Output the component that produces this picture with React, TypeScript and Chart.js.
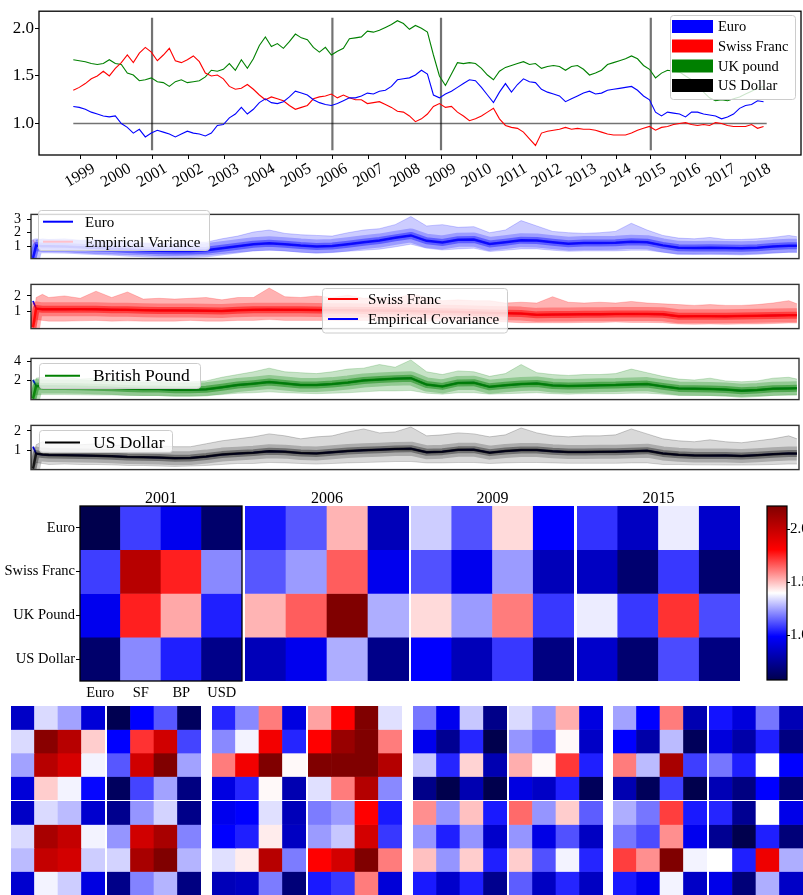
import React, { useEffect, useRef } from 'react';
import { Chart, registerables } from 'chart.js';

Chart.register(...registerables);

const SERIF = '"Liberation Serif", "DejaVu Serif", "Times New Roman", serif';
Chart.defaults.font.family = SERIF;
Chart.defaults.color = '#000';

/* ------------------------------------------------------------------ */
/* Exchange rates in US dollars, one reading every STEP trading days   */
/* ------------------------------------------------------------------ */
const STEP = 42;
const LAST_DAY = 4852;

const EURO = [
  1.18, 1.17, 1.15, 1.12, 1.10, 1.08, 1.07, 1.08, 1.00, 0.96,
  0.90, 0.94, 0.86, 0.90, 0.93, 0.91, 0.89, 0.86, 0.89, 0.92,
  0.90, 0.89, 0.87, 0.90, 0.98, 0.99, 1.06, 1.10, 1.17, 1.10,
  1.15, 1.22, 1.26, 1.22, 1.21, 1.23, 1.28, 1.34, 1.32, 1.30,
  1.25, 1.22, 1.20, 1.19, 1.21, 1.24, 1.27, 1.27, 1.29, 1.32,
  1.31, 1.34, 1.35, 1.39, 1.46, 1.47, 1.48, 1.51, 1.56, 1.52,
  1.30, 1.27, 1.31, 1.34, 1.38, 1.42, 1.46, 1.45, 1.38, 1.30,
  1.22, 1.33, 1.42, 1.33, 1.41, 1.47, 1.44, 1.43, 1.36, 1.33,
  1.31, 1.29, 1.23, 1.26, 1.29, 1.32, 1.34, 1.31, 1.32, 1.35,
  1.36, 1.37, 1.38, 1.39, 1.35, 1.29, 1.25, 1.12, 1.08, 1.12,
  1.11, 1.10, 1.07, 1.12, 1.12, 1.10, 1.09, 1.08, 1.05, 1.07,
  1.10, 1.16, 1.19, 1.20, 1.24, 1.23,
];

const SWISS_FRANC = [
  1.35, 1.38, 1.42, 1.47, 1.50, 1.55, 1.50, 1.58, 1.64, 1.72,
  1.64, 1.74, 1.80, 1.75, 1.66, 1.72, 1.79, 1.66, 1.64, 1.67,
  1.71, 1.65, 1.53, 1.50, 1.51, 1.47, 1.39, 1.36, 1.37, 1.41,
  1.36, 1.30, 1.25, 1.28, 1.26, 1.24, 1.19, 1.15, 1.17, 1.19,
  1.26, 1.28, 1.29, 1.31, 1.27, 1.30, 1.27, 1.25, 1.25, 1.21,
  1.22, 1.23, 1.20, 1.17, 1.13, 1.12, 1.08, 1.02, 1.05, 1.10,
  1.18, 1.21, 1.17, 1.18, 1.12, 1.08, 1.03, 1.05, 1.08, 1.12,
  1.16, 1.05, 0.98, 0.96, 0.95, 0.91, 0.84, 0.77, 0.90, 0.92,
  0.93, 0.94, 0.96, 0.94, 0.95, 0.94, 0.94, 0.93, 0.91, 0.89,
  0.88, 0.88, 0.88, 0.90, 0.93, 0.95, 0.97, 0.93, 0.96, 0.97,
  0.99, 1.00, 1.01, 0.99, 0.98, 0.99, 0.98, 1.01, 1.00, 0.98,
  0.97, 0.97, 0.97, 0.99, 0.95, 0.97,
];

const UK_POUND = [
  1.67, 1.66, 1.65, 1.63, 1.62, 1.63, 1.67, 1.63, 1.62, 1.53,
  1.51, 1.45, 1.46, 1.48, 1.44, 1.43, 1.39, 1.44, 1.46, 1.43,
  1.44, 1.45, 1.49, 1.56, 1.55, 1.57, 1.63, 1.56, 1.67, 1.58,
  1.68, 1.82, 1.91, 1.81, 1.84, 1.79, 1.86, 1.94, 1.90, 1.88,
  1.80, 1.75, 1.80, 1.72, 1.76, 1.79, 1.89, 1.90, 1.91, 1.97,
  1.96, 1.98, 2.01, 2.04, 2.08, 2.05, 1.99, 2.03, 2.00, 1.96,
  1.72, 1.50, 1.40, 1.52, 1.64, 1.63, 1.64, 1.63, 1.58, 1.51,
  1.46, 1.55, 1.59, 1.61, 1.63, 1.65, 1.62, 1.63, 1.58, 1.60,
  1.61, 1.60, 1.56, 1.60, 1.61, 1.57, 1.51, 1.53, 1.56, 1.62,
  1.64, 1.66, 1.68, 1.71, 1.68, 1.61, 1.57, 1.48, 1.53, 1.56,
  1.55, 1.54, 1.50, 1.46, 1.44, 1.33, 1.27, 1.24, 1.25, 1.24,
  1.26, 1.28, 1.31, 1.34, 1.37, 1.39,
];

// the reference currency sits at parity from the first to the last day
const US_DOLLAR = [1.0, 1.0];

const YEAR_LABELS = [
  '1999', '2000', '2001', '2002', '2003', '2004', '2005', '2006', '2007', '2008',
  '2009', '2010', '2011', '2012', '2013', '2014', '2015', '2016', '2017', '2018',
];
// trading-day index carrying each year label
const YEAR_TICKS = [
  47, 299, 551, 803, 1055, 1307, 1559, 1813, 2065, 2322,
  2573, 2823, 3072, 3313, 3555, 3798, 4041, 4286, 4531, 4776,
];
const RATE_TICKS = [1.0, 1.5, 2.0];
const MARKED_YEARS = ['2001', '2006', '2009', '2015'];
const MARKER_SPAN = [0.72, 2.11];

const CURRENCY_NAMES = ['Euro', 'Swiss Franc', 'UK pound', 'US Dollar'];
const CURRENCY_COLORS = ['rgb(0,0,255)', 'rgb(255,0,0)', 'rgb(0,128,0)', 'rgb(0,0,0)'];

/* ------------------------------------------------------------------ */
/* Sampled variances / covariances over time                           */
/* ------------------------------------------------------------------ */
const VAR_T = [
  0, 20, 60, 100, 200, 300, 400, 500, 600, 700, 800, 900, 1000,
  1100, 1200, 1300, 1400, 1500, 1600, 1700, 1800, 1900, 2000,
  2100, 2200, 2300, 2400, 2500, 2600, 2700, 2800, 2900, 3000,
  3100, 3200, 3300, 3400, 3500, 3600, 3700, 3800, 3900, 4000,
  4100, 4200, 4300, 4400, 4500, 4600, 4700, 4800, 4852,
];

const EURO_EMP = [1.45, 1.05, 1.00, 1.00, 0.97, 0.93, 0.87, 0.82, 0.76, 0.70, 0.66, 0.64, 0.65, 0.70, 0.85, 1.00, 1.15, 1.22, 1.15, 1.05, 0.98, 1.02, 1.15, 1.30, 1.42, 1.62, 1.80, 1.40, 1.28, 1.48, 1.50, 1.17, 1.30, 1.45, 1.42, 1.30, 1.19, 1.24, 1.23, 1.25, 1.33, 1.30, 1.06, 0.88, 0.86, 0.88, 0.87, 0.84, 0.88, 0.97, 1.03, 1.03];
const EURO_HI = [0.25, 1.45, 1.55, 1.5, 1.55, 1.45, 1.5, 1.35, 1.4, 1.25, 1.2, 1.25, 1.3, 1.3, 1.55, 1.75, 2.05, 2.2, 1.95, 1.85, 1.8, 1.75, 2.0, 2.2, 2.3, 2.6, 3.2, 2.5, 2.6, 2.4, 2.45, 2.0, 2.2, 2.9, 2.5, 2.1, 2.0, 1.95, 2.0, 2.1, 2.7, 2.2, 1.8, 1.6, 1.55, 1.65, 1.5, 1.5, 1.55, 1.65, 1.8, 1.7];
const EURO_LO = [0.05, 0.65, 0.6, 0.6, 0.58, 0.52, 0.45, 0.42, 0.38, 0.35, 0.3, 0.3, 0.32, 0.35, 0.45, 0.55, 0.65, 0.7, 0.65, 0.55, 0.5, 0.55, 0.62, 0.7, 0.78, 0.95, 1.15, 0.85, 0.72, 0.8, 0.85, 0.6, 0.7, 0.8, 0.8, 0.7, 0.62, 0.65, 0.65, 0.65, 0.7, 0.7, 0.55, 0.42, 0.42, 0.45, 0.42, 0.4, 0.45, 0.5, 0.55, 0.55];
const EURO_START = 0.12;

const SF_EMP = [1.68, 1.2, 1.15, 1.15, 1.15, 1.16, 1.15, 1.13, 1.12, 1.10, 1.08, 1.08, 1.07, 1.06, 1.05, 1.10, 1.12, 1.13, 1.12, 1.12, 1.11, 1.10, 1.10, 1.08, 1.07, 1.06, 1.04, 1.02, 1.00, 0.98, 0.95, 0.92, 0.91, 0.88, 0.80, 0.82, 0.83, 0.84, 0.84, 0.85, 0.86, 0.85, 0.84, 0.71, 0.72, 0.72, 0.71, 0.73, 0.74, 0.76, 0.78, 0.78];
const SF_HI = [0.1, 1.9, 2.1, 1.9, 2.0, 1.85, 2.3, 1.9, 2.25, 1.8, 1.85, 1.8, 1.85, 1.9, 1.75, 1.9, 1.9, 2.5, 1.95, 1.9, 2.0, 1.9, 2.05, 1.85, 1.9, 1.85, 2.1, 1.9, 1.7, 1.75, 1.7, 1.7, 1.55, 1.6, 1.55, 1.95, 1.6, 1.55, 1.6, 1.55, 1.65, 1.55, 1.5, 1.45, 1.4, 1.45, 1.4, 1.4, 1.45, 1.55, 1.7, 1.5];
const SF_LO = [-0.02, 0.5, 0.45, 0.4, 0.4, 0.42, 0.45, 0.4, 0.42, 0.4, 0.4, 0.4, 0.45, 0.4, 0.4, 0.45, 0.45, 0.5, 0.45, 0.45, 0.45, 0.45, 0.42, 0.45, 0.42, 0.45, 0.4, 0.4, 0.4, 0.38, 0.35, 0.35, 0.35, 0.3, 0.3, 0.3, 0.3, 0.32, 0.32, 0.35, 0.32, 0.32, 0.3, 0.22, 0.2, 0.22, 0.2, 0.22, 0.22, 0.25, 0.28, 0.28];
const SF_START = 0.0;

const GBP_EMP = [2.0, 1.35, 1.3, 1.3, 1.28, 1.25, 1.2, 1.15, 1.08, 1.02, 1.0, 0.93, 0.92, 0.98, 1.2, 1.45, 1.6, 1.78, 1.62, 1.45, 1.45, 1.55, 1.72, 1.95, 2.05, 2.15, 2.2, 1.5, 1.3, 1.68, 1.7, 1.25, 1.42, 1.55, 1.62, 1.4, 1.35, 1.38, 1.42, 1.45, 1.52, 1.55, 1.3, 1.08, 1.05, 1.02, 0.95, 0.82, 0.9, 1.05, 1.08, 1.1];
const GBP_HI = [0.2, 2.2, 2.3, 2.2, 2.3, 2.1, 2.2, 2.0, 2.1, 1.9, 1.85, 1.8, 1.8, 1.9, 2.3, 2.6, 2.9, 3.3, 2.9, 2.8, 2.7, 2.9, 3.2, 3.3, 3.7, 3.4, 4.2, 2.9, 2.6, 3.0, 2.9, 2.4, 2.7, 3.7, 2.8, 2.6, 2.5, 2.6, 2.6, 2.7, 3.2, 2.8, 2.4, 2.1, 2.0, 2.2, 1.9, 1.8, 1.9, 2.2, 2.3, 2.1];
const GBP_LO = [-0.1, 0.4, 0.4, 0.4, 0.4, 0.38, 0.35, 0.35, 0.3, 0.3, 0.3, 0.25, 0.25, 0.3, 0.4, 0.55, 0.6, 0.7, 0.6, 0.55, 0.5, 0.55, 0.6, 0.7, 0.8, 0.8, 0.85, 0.55, 0.45, 0.6, 0.6, 0.45, 0.5, 0.55, 0.6, 0.5, 0.45, 0.5, 0.5, 0.5, 0.55, 0.55, 0.45, 0.3, 0.3, 0.3, 0.25, 0.2, 0.25, 0.3, 0.35, 0.35];
const GBP_START = -0.05;

const USD_EMP = [1.2, 0.85, 0.8, 0.78, 0.77, 0.76, 0.74, 0.72, 0.68, 0.67, 0.65, 0.62, 0.63, 0.7, 0.8, 0.85, 0.9, 0.97, 0.95, 0.88, 0.86, 0.92, 0.98, 1.02, 1.05, 1.08, 1.1, 0.92, 0.95, 1.04, 1.05, 0.9, 0.98, 1.03, 1.03, 0.97, 0.93, 0.93, 0.94, 0.95, 0.97, 1.0, 0.86, 0.79, 0.76, 0.75, 0.76, 0.73, 0.77, 0.82, 0.86, 0.85];
const USD_HI = [0.3, 1.3, 1.45, 1.35, 1.4, 1.3, 1.35, 1.25, 1.3, 1.2, 1.25, 1.2, 1.2, 1.35, 1.5, 1.6, 1.7, 1.85, 1.75, 1.6, 1.7, 1.75, 1.95, 2.1, 1.9, 1.95, 2.2, 1.75, 1.8, 1.9, 1.85, 1.7, 1.8, 2.15, 1.9, 1.75, 1.7, 1.75, 1.75, 1.8, 2.1, 1.85, 1.6, 1.5, 1.45, 1.55, 1.45, 1.4, 1.5, 1.6, 1.75, 1.6];
const USD_LO = [0.05, 0.4, 0.35, 0.3, 0.32, 0.3, 0.3, 0.28, 0.25, 0.25, 0.22, 0.2, 0.22, 0.25, 0.3, 0.35, 0.35, 0.4, 0.38, 0.35, 0.32, 0.35, 0.38, 0.4, 0.42, 0.45, 0.45, 0.38, 0.38, 0.4, 0.4, 0.35, 0.38, 0.4, 0.4, 0.38, 0.36, 0.36, 0.36, 0.36, 0.38, 0.38, 0.3, 0.3, 0.28, 0.28, 0.27, 0.27, 0.28, 0.3, 0.32, 0.32];
const USD_START = 0.08;

/* ------------------------------------------------------------------ */
/* Covariance matrices (rows/cols: Euro, SF, BP, USD)                  */
/* ------------------------------------------------------------------ */
const ROW_LABELS = ['Euro', 'Swiss Franc', 'UK Pound', 'US Dollar'];
const COL_LABELS = ['Euro', 'SF', 'BP', 'USD'];
const COV_YEARS = ['2001', '2006', '2009', '2015'];

const COV_2001 = [[0.58, 1.09, 0.95, 0.65], [1.09, 2.04, 1.76, 1.21], [0.95, 1.76, 1.54, 1.04], [0.65, 1.21, 1.04, 0.72]];
const COV_2006 = [[1.03, 1.13, 1.52, 0.83], [1.13, 1.24, 1.66, 0.95], [1.52, 1.66, 2.22, 1.27], [0.83, 0.95, 1.27, 0.72]];
const COV_2009 = [[1.32, 1.12, 1.46, 0.99], [1.12, 0.95, 1.24, 0.83], [1.46, 1.24, 1.61, 1.08], [0.99, 0.83, 1.08, 0.70]];
const COV_2015 = [[1.07, 0.85, 1.37, 0.87], [0.85, 0.66, 1.08, 0.66], [1.37, 1.08, 1.73, 1.11], [0.87, 0.66, 1.11, 0.70]];

// four posterior draws per year
const DRAWS_2001 = [
  [[0.86, 1.34, 1.25, 0.90], [1.34, 2.19, 2.04, 1.48], [1.25, 2.04, 1.94, 1.38], [0.90, 1.48, 1.38, 1.00]],
  [[0.59, 0.99, 1.13, 0.62], [0.99, 1.73, 1.96, 1.10], [1.13, 1.96, 2.22, 1.25], [0.62, 1.10, 1.25, 0.70]],
  [[0.86, 1.34, 1.29, 0.88], [1.34, 2.09, 2.00, 1.38], [1.29, 2.00, 1.95, 1.32], [0.88, 1.38, 1.32, 0.92]],
  [[0.73, 1.23, 1.33, 0.72], [1.23, 1.96, 2.09, 1.20], [1.33, 2.09, 2.22, 1.28], [0.72, 1.20, 1.28, 0.70]],
];
const DRAWS_2006 = [
  [[1.05, 1.21, 1.61, 0.92], [1.21, 1.38, 1.85, 1.05], [1.61, 1.85, 2.22, 1.41], [0.92, 1.05, 1.41, 0.81]],
  [[1.55, 1.81, 2.30, 1.35], [1.81, 2.14, 2.30, 1.61], [2.30, 2.30, 2.40, 2.05], [1.35, 1.61, 2.05, 1.21]],
  [[0.95, 0.99, 1.35, 0.83], [0.99, 1.04, 1.43, 0.85], [1.35, 1.43, 2.04, 1.19], [0.83, 0.85, 1.19, 0.68]],
  [[1.19, 1.24, 1.81, 1.03], [1.24, 1.31, 1.95, 1.08], [1.81, 1.95, 2.25, 1.61], [1.03, 1.08, 1.61, 0.90]],
];
const DRAWS_2009 = [
  [[1.18, 0.95, 1.31, 0.72], [0.95, 0.74, 1.05, 0.58], [1.31, 1.05, 1.47, 0.81], [0.72, 0.58, 0.81, 0.56]],
  [[1.34, 1.23, 1.53, 0.92], [1.23, 1.16, 1.41, 0.86], [1.53, 1.41, 1.72, 1.04], [0.92, 0.86, 1.04, 0.61]],
  [[1.58, 1.23, 1.50, 1.03], [1.23, 1.04, 1.23, 0.87], [1.50, 1.23, 1.48, 1.04], [1.03, 0.87, 1.04, 0.73]],
  [[1.64, 1.23, 1.48, 1.14], [1.23, 0.93, 1.12, 0.85], [1.48, 1.12, 1.38, 1.05], [1.14, 0.85, 1.05, 0.85]],
];
const DRAWS_2015 = [
  [[1.25, 0.99, 1.61, 0.81], [0.99, 0.79, 1.29, 0.61], [1.61, 1.29, 2.09, 1.09], [0.81, 0.61, 1.09, 0.57]],
  [[1.02, 0.91, 1.18, 0.82], [0.91, 0.79, 1.04, 0.70], [1.18, 1.04, 1.40, 0.99], [0.82, 0.70, 0.99, 0.68]],
  [[1.27, 1.18, 1.71, 1.03], [1.18, 1.11, 1.58, 0.95], [1.71, 1.58, 2.30, 1.38], [1.03, 0.95, 1.38, 0.86]],
  [[1.05, 0.74, 1.40, 0.94], [0.74, 0.57, 1.04, 0.68], [1.40, 1.04, 1.86, 1.27], [0.94, 0.68, 1.27, 0.86]],
];

const CMAP_MIN = 0.58;
const CMAP_MAX = 2.22;
const CBAR_TICKS = [1.0, 1.5, 2.0];

/* ------------------------------------------------------------------ */
/* helpers                                                             */
/* ------------------------------------------------------------------ */
function seismicRgb(n: number): number[] {
  n = Math.min(1, Math.max(0, n));
  if (n < 0.25) return [0, 0, 0.3 + 0.7 * (n / 0.25)];
  if (n < 0.5) { const f = (n - 0.25) / 0.25; return [f, f, 1]; }
  if (n < 0.75) { const f = (n - 0.5) / 0.25; return [1, 1 - f, 1 - f]; }
  const f = (n - 0.75) / 0.25;
  return [1 - 0.5 * f, 0, 0];
}
function seismic(v: number): string {
  const [r, g, b] = seismicRgb((v - CMAP_MIN) / (CMAP_MAX - CMAP_MIN));
  return `rgb(${Math.round(r * 255)},${Math.round(g * 255)},${Math.round(b * 255)})`;
}

type LegendItem = { label: string; color: string; kind: 'patch' | 'line' };
type LegendSpec = {
  box: number[]; rows: number[]; handle: number[]; textX: number; size: number; patchH?: number;
  items: LegendItem[];
};

function roundRect(c: CanvasRenderingContext2D, x: number, y: number, w: number, h: number, r: number) {
  c.beginPath();
  c.moveTo(x + r, y);
  c.lineTo(x + w - r, y);
  c.arcTo(x + w, y, x + w, y + r, r);
  c.lineTo(x + w, y + h - r);
  c.arcTo(x + w, y + h, x + w - r, y + h, r);
  c.lineTo(x + r, y + h);
  c.arcTo(x, y + h, x, y + h - r, r);
  c.lineTo(x, y + r);
  c.arcTo(x, y, x + r, y, r);
  c.closePath();
}

function drawLegend(c: CanvasRenderingContext2D, spec: LegendSpec) {
  const [x0, y0, x1, y1] = spec.box;
  roundRect(c, x0 + 0.5, y0 + 0.5, x1 - x0, y1 - y0, 3);
  c.fillStyle = 'rgba(255,255,255,0.8)';
  c.fill();
  c.strokeStyle = 'rgb(204,204,204)';
  c.lineWidth = 1;
  c.stroke();
  spec.items.forEach((it, i) => {
    const y = spec.rows[i];
    const [hx0, hx1] = spec.handle;
    if (it.kind === 'patch') {
      const ph = spec.patchH || 13;
      c.fillStyle = it.color;
      c.fillRect(hx0, y - ph / 2, hx1 - hx0, ph);
    } else {
      c.strokeStyle = it.color;
      c.lineWidth = 2;
      c.beginPath();
      c.moveTo(hx0, y);
      c.lineTo(hx1, y);
      c.stroke();
    }
    c.fillStyle = '#000';
    c.font = `${spec.size}px ${SERIF}`;
    c.textAlign = 'left';
    c.textBaseline = 'middle';
    c.fillText(it.label, spec.textX, y + 1);
  });
}

type DecorOpts = {
  frame?: { color: string; width: number };
  legend?: LegendSpec;
  title?: string;
  yearLabels?: boolean;
};

function decor(o: DecorOpts) {
  return {
    id: 'decor',
    afterDraw(chart: any) {
      const c: CanvasRenderingContext2D = chart.ctx;
      const a = chart.chartArea;
      c.save();
      if (o.frame) {
        c.strokeStyle = o.frame.color;
        c.lineWidth = o.frame.width;
        c.strokeRect(a.left, a.top, a.right - a.left, a.bottom - a.top);
      }
      if (o.yearLabels) {
        const xs = chart.scales.x;
        c.font = `16px ${SERIF}`;
        c.fillStyle = '#000';
        c.textAlign = 'center';
        c.textBaseline = 'middle';
        YEAR_TICKS.forEach((t, i) => {
          c.save();
          c.translate(xs.getPixelForValue(t), a.bottom + 20.5);
          c.rotate(-Math.PI / 6);
          c.fillText(YEAR_LABELS[i], 0, 0);
          c.restore();
        });
      }
      if (o.title) {
        c.font = `16px ${SERIF}`;
        c.fillStyle = '#000';
        c.textAlign = 'center';
        c.textBaseline = 'alphabetic';
        c.fillText(o.title, (a.left + a.right) / 2, a.top - 3);
      }
      if (o.legend) drawLegend(c, o.legend);
      c.restore();
    },
  };
}

const baseOptions = {
  responsive: false,
  animation: false,
  devicePixelRatio: 1,
  events: [],
};
const noPlugins = { legend: { display: false }, tooltip: { enabled: false }, title: { display: false } };

/* ------------------------------------------------------------------ */
/* chart configurations                                                */
/* ------------------------------------------------------------------ */
function ratesConfig() {
  const daily = (vals: number[]) => vals.map((v, k) => ({ x: k * STEP, y: v }));
  const series = [EURO, SWISS_FRANC, UK_POUND].map((vals, i) => ({
    label: CURRENCY_NAMES[i],
    data: daily(vals),
    borderColor: CURRENCY_COLORS[i],
    borderWidth: 1.1,
    pointRadius: 0,
  }));
  const dollar = {
    label: CURRENCY_NAMES[3],
    data: [{ x: 0, y: US_DOLLAR[0] }, { x: LAST_DAY, y: US_DOLLAR[1] }],
    borderColor: 'rgba(0,0,0,0.55)',
    borderWidth: 1.6,
    pointRadius: 0,
  };
  const markers = MARKED_YEARS.map((yr) => {
    const t = YEAR_TICKS[YEAR_LABELS.indexOf(yr)];
    return {
      label: yr,
      data: [{ x: t, y: MARKER_SPAN[0] }, { x: t, y: MARKER_SPAN[1] }],
      borderColor: 'rgba(0,0,0,0.55)',
      borderWidth: 2.2,
      pointRadius: 0,
    };
  });
  return {
    type: 'line',
    data: { datasets: [...series, dollar, ...markers] },
    options: {
      ...baseOptions,
      layout: { padding: { top: 9, right: 2, left: 0, bottom: 0 } },
      plugins: noPlugins,
      scales: {
        x: {
          type: 'linear', min: -240, max: 5092,
          afterBuildTicks: (s: any) => { s.ticks = YEAR_TICKS.map((v) => ({ value: v })); },
          ticks: { display: false },
          grid: { drawOnChartArea: false, tickLength: 4, color: '#000' },
          border: { display: false },
          afterFit: (s: any) => { s.height = 45; },
        },
        y: {
          type: 'linear', min: 0.67, max: 2.18,
          afterBuildTicks: (s: any) => { s.ticks = RATE_TICKS.map((v) => ({ value: v })); },
          ticks: { callback: (v: any) => Number(v).toFixed(1), font: { size: 17 }, padding: 1 },
          grid: { drawOnChartArea: false, tickLength: 4, color: '#000' },
          border: { display: false },
          afterFit: (s: any) => { s.width = 39; },
        },
      },
    },
    plugins: [decor({
      frame: { color: '#000', width: 1.3 },
      yearLabels: true,
      legend: {
        box: [670, 15, 795, 99], rows: [26.5, 46, 66, 85.5], handle: [672, 713], textX: 718, size: 14.5, patchH: 13,
        items: CURRENCY_NAMES.map((n, i) => ({ label: n, color: CURRENCY_COLORS[i], kind: 'patch' as const })),
      },
    })],
  };
}

type Panel = {
  name: string; rgb: number[]; fillAlpha: number; coreAlpha: number; lineAlpha: number;
  emp: number[]; hi: number[]; lo: number[]; start: number;
  empColor: string; empWidth: number;
  yMin: number; yMax: number; ticks: number[];
  legend: LegendSpec;
};

const PANELS: Panel[] = [
  {
    name: 'Euro', rgb: [0, 0, 255], fillAlpha: 0.2, coreAlpha: 0.4, lineAlpha: 0.85,
    emp: EURO_EMP, hi: EURO_HI, lo: EURO_LO, start: EURO_START,
    empColor: 'rgb(255,192,203)', empWidth: 1.5,
    yMin: 0.08, yMax: 3.36, ticks: [1, 2, 3],
    legend: {
      box: [38, 10, 209, 50], rows: [21.7, 41.7], handle: [43, 73], textX: 85, size: 15,
      items: [{ label: 'Euro', color: 'rgb(0,0,255)', kind: 'line' }, { label: 'Empirical Variance', color: 'rgb(255,192,203)', kind: 'line' }],
    },
  },
  {
    name: 'Swiss Franc', rgb: [255, 0, 0], fillAlpha: 0.3, coreAlpha: 0.5, lineAlpha: 0.85,
    emp: SF_EMP, hi: SF_HI, lo: SF_LO, start: SF_START,
    empColor: 'rgb(0,0,255)', empWidth: 1.8,
    yMin: -0.07, yMax: 2.73, ticks: [1, 2],
    legend: {
      box: [322, 18, 507, 62.5], rows: [29, 49], handle: [328, 358], textX: 368, size: 15,
      items: [{ label: 'Swiss Franc', color: 'rgb(255,0,0)', kind: 'line' }, { label: 'Empirical Covariance', color: 'rgb(0,0,255)', kind: 'line' }],
    },
  },
  {
    name: 'British Pound', rgb: [0, 128, 0], fillAlpha: 0.22, coreAlpha: 0.45, lineAlpha: 0.85,
    emp: GBP_EMP, hi: GBP_HI, lo: GBP_LO, start: GBP_START,
    empColor: 'rgb(0,0,255)', empWidth: 1.8,
    yMin: -0.15, yMax: 4.37, ticks: [2, 4],
    legend: {
      box: [39, 19, 200, 44], rows: [31.7], handle: [45, 80], textX: 93, size: 17.5,
      items: [{ label: 'British Pound', color: 'rgb(0,128,0)', kind: 'line' }],
    },
  },
  {
    name: 'US Dollar', rgb: [0, 0, 0], fillAlpha: 0.15, coreAlpha: 0.35, lineAlpha: 0.8,
    emp: USD_EMP, hi: USD_HI, lo: USD_LO, start: USD_START,
    empColor: 'rgb(0,0,255)', empWidth: 1.8,
    yMin: 0.04, yMax: 2.28, ticks: [1, 2],
    legend: {
      box: [39, 19, 172, 41], rows: [31.5], handle: [45, 80], textX: 93, size: 17.5,
      items: [{ label: 'US Dollar', color: 'rgb(0,0,0)', kind: 'line' }],
    },
  },
];

const PANEL_BOXES = [
  { top: 200, height: 73 },
  { top: 270, height: 73 },
  { top: 344, height: 70 },
  { top: 411, height: 73 },
];

function panelConfig(p: Panel) {
  const pts = (vals: number[]) => vals.map((v, i) => ({ x: VAR_T[i], y: v }));
  const rgba = (a: number) => `rgba(${p.rgb.join(',')},${a})`;
  const core = [{ x: VAR_T[0], y: p.start }, ...pts(p.emp).slice(1)];
  return {
    type: 'line',
    data: {
      datasets: [
        { data: pts(p.lo), borderWidth: 0.8, borderColor: rgba(0.2), pointRadius: 0, fill: false },
        { data: pts(p.hi), borderWidth: 0.8, borderColor: rgba(0.25), backgroundColor: rgba(p.fillAlpha), pointRadius: 0, fill: '-1' },
        { data: core, borderWidth: 14, borderColor: rgba(p.coreAlpha * 0.6), pointRadius: 0, borderJoinStyle: 'round' },
        { data: core, borderWidth: 7, borderColor: rgba(p.coreAlpha), pointRadius: 0, borderJoinStyle: 'round' },
        { data: core, borderWidth: 2.5, borderColor: rgba(p.lineAlpha), pointRadius: 0 },
        { data: pts(p.emp), borderWidth: p.empWidth, borderColor: p.empColor, pointRadius: 0 },
      ],
    },
    options: {
      ...baseOptions,
      layout: { padding: { top: 10, bottom: 10, left: 0, right: 4 } },
      plugins: noPlugins,
      scales: {
        x: { type: 'linear', display: false, min: -12.7, max: 4865 },
        y: {
          type: 'linear', min: p.yMin, max: p.yMax,
          afterBuildTicks: (s: any) => { s.ticks = p.ticks.map((v) => ({ value: v })); },
          ticks: { callback: (v: any) => String(v), font: { size: 14 }, padding: 6 },
          grid: { drawOnChartArea: false, tickLength: 4, color: '#000' },
          border: { display: false },
          afterFit: (s: any) => { s.width = 31; },
        },
      },
    },
    plugins: [decor({ frame: { color: 'rgba(0,0,0,0.8)', width: 1.4 }, legend: p.legend })],
  };
}

function heatmapConfig(matrix: number[][], o: { title?: string; axes?: boolean; frame?: boolean }) {
  const axes = !!o.axes;
  const x: any = {
    stacked: true, display: axes,
    grid: { display: false, drawTicks: false },
    border: { display: false },
    ticks: { font: { size: 14.5 }, padding: 3, maxRotation: 0, autoSkip: false },
  };
  const y: any = {
    stacked: true, reverse: true, min: 0, max: 4, display: axes,
    afterBuildTicks: (s: any) => { s.ticks = ROW_LABELS.map((_l, i) => ({ value: i + 0.5 })); },
    ticks: { callback: (_v: any, i: number) => ROW_LABELS[i], font: { size: 14.5 }, padding: 1 },
    grid: { drawOnChartArea: false, tickLength: 4, color: '#000' },
    border: { display: false },
  };
  if (axes) {
    x.afterFit = (s: any) => { s.height = 20; };
    y.afterFit = (s: any) => { s.width = 80; };
  }
  return {
    type: 'bar',
    data: {
      labels: COL_LABELS,
      datasets: matrix.map((row, i) => ({
        label: ROW_LABELS[i],
        data: row.map(() => 1),
        backgroundColor: row.map(seismic),
        borderWidth: 0,
        barPercentage: 1,
        categoryPercentage: 1,
      })),
    },
    options: {
      ...baseOptions,
      layout: { padding: { top: o.title ? 20 : 0, right: axes ? 1 : 0, left: 0, bottom: 0 } },
      plugins: noPlugins,
      scales: { x, y },
    },
    plugins: [decor({ title: o.title, frame: o.frame ? { color: '#000', width: 1.3 } : undefined })],
  };
}

function colorbarConfig() {
  return {
    type: 'bar',
    data: {
      labels: [''],
      datasets: [{
        data: [[CMAP_MIN, CMAP_MAX]],
        borderWidth: 0,
        barPercentage: 1,
        categoryPercentage: 1,
        backgroundColor: (ctx: any) => {
          const area = ctx.chart.chartArea;
          if (!area) return 'rgba(0,0,0,0)';
          const g = ctx.chart.ctx.createLinearGradient(0, area.bottom, 0, area.top);
          [0, 0.25, 0.5, 0.75, 1].forEach((s) => {
            const [r, gg, b] = seismicRgb(s);
            g.addColorStop(s, `rgb(${Math.round(r * 255)},${Math.round(gg * 255)},${Math.round(b * 255)})`);
          });
          return g;
        },
      }],
    },
    options: {
      ...baseOptions,
      layout: { padding: { top: 10, bottom: 10, left: 27, right: 0 } },
      plugins: noPlugins,
      scales: {
        x: { display: false },
        y: {
          position: 'right', min: CMAP_MIN, max: CMAP_MAX,
          afterBuildTicks: (s: any) => { s.ticks = CBAR_TICKS.map((v) => ({ value: v })); },
          ticks: { callback: (v: any) => Number(v).toFixed(1), font: { size: 15 }, padding: 0 },
          grid: { drawOnChartArea: false, tickLength: 3, color: '#000' },
          border: { display: false },
          afterFit: (s: any) => { s.width = 16; },
        },
      },
    },
    plugins: [decor({ frame: { color: '#000', width: 1.2 } })],
  };
}

/* ------------------------------------------------------------------ */
/* components                                                          */
/* ------------------------------------------------------------------ */
function ChartCanvas({ left, top, width, height, make }: { left: number; top: number; width: number; height: number; make: () => any }) {
  const ref = useRef<HTMLCanvasElement | null>(null);
  useEffect(() => {
    if (!ref.current) return undefined;
    const chart = new Chart(ref.current, make());
    return () => chart.destroy();
  }, []);
  return (
    <canvas
      ref={ref}
      width={width}
      height={height}
      style={{ position: 'absolute', left, top, width, height, display: 'block' }}
    />
  );
}

const COV_MATRICES = [COV_2001, COV_2006, COV_2009, COV_2015];
const DRAWS = [DRAWS_2001, DRAWS_2006, DRAWS_2009, DRAWS_2015];

// page placement of the covariance tiles
const COV_TILES = [
  { left: 0, width: 243, height: 215 },
  { left: 245, width: 164, height: 195 },
  { left: 411, width: 163, height: 195 },
  { left: 577, width: 163, height: 195 },
];
const DRAW_GROUP_LEFT = [11, 212, 413, 613];

export default function App() {
  return (
    <div style={{ position: 'absolute', left: 0, top: 0, width: 803, height: 895, overflow: 'hidden', background: '#fff' }}>
      <ChartCanvas left={0} top={0} width={803} height={200} make={ratesConfig} />
      {PANELS.map((p, i) => (
        <ChartCanvas key={p.name} left={0} top={PANEL_BOXES[i].top} width={803} height={PANEL_BOXES[i].height} make={() => panelConfig(p)} />
      ))}
      {COV_MATRICES.map((m, i) => (
        <ChartCanvas
          key={COV_YEARS[i]}
          left={COV_TILES[i].left}
          top={486}
          width={COV_TILES[i].width}
          height={COV_TILES[i].height}
          make={() => heatmapConfig(m, { title: COV_YEARS[i], axes: i === 0, frame: i === 0 })}
        />
      ))}
      <ChartCanvas left={740} top={496} width={63} height={194} make={colorbarConfig} />
      {DRAWS.map((group, g) =>
        group.map((m, j) => (
          <ChartCanvas
            key={`${g}-${j}`}
            left={DRAW_GROUP_LEFT[g] + (j % 2) * 96}
            top={706 + Math.floor(j / 2) * 95}
            width={94}
            height={94}
            make={() => heatmapConfig(m, {})}
          />
        ))
      )}
    </div>
  );
}
